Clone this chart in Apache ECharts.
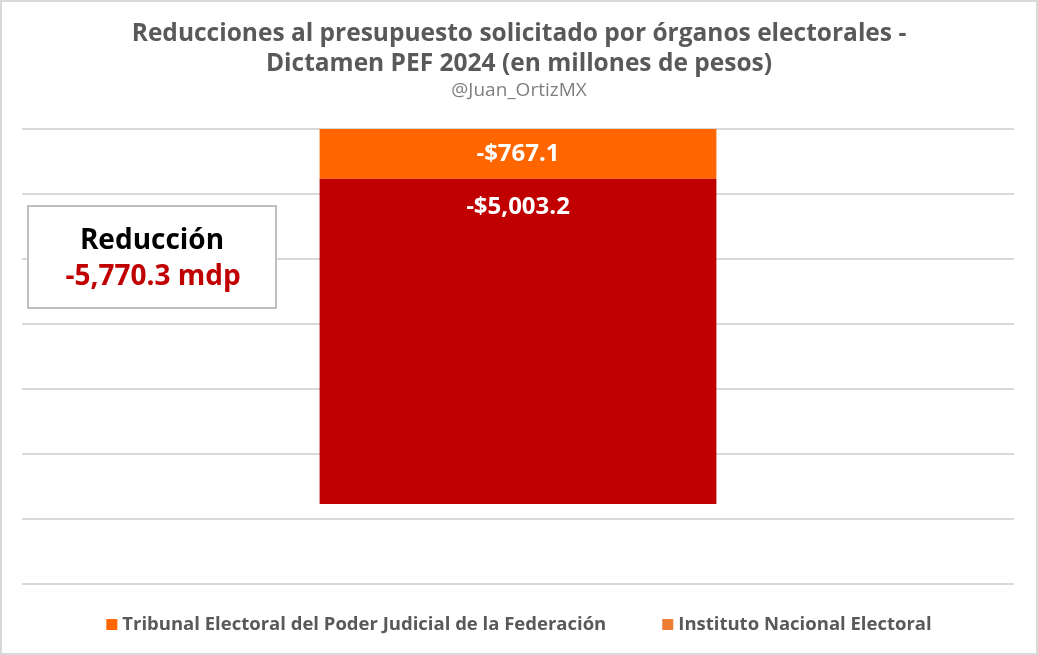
<!DOCTYPE html>
<html>
<head>
<meta charset="utf-8">
<script src="https://cdn.jsdelivr.net/npm/echarts@6/dist/echarts.min.js"></script>
<style>
  html, body { margin: 0; padding: 0; background: #fff; }
  #chart { width: 1038px; height: 655px; box-sizing: border-box; border: 2px solid #d9d9d9; }
</style>
</head>
<body>
<div id="chart"></div>
<script>
// datos (millones de pesos)
var categories = ['Dictamen PEF 2024'];
var seriesNames = ['Tribunal Electoral del Poder Judicial de la Federación', 'Instituto Nacional Electoral'];
var tribunalValues = [-767.1];
var ineValues = [-5003.2];
var barColors = ['#FF6600', '#C00000'];
var legendColors = ['#FF6600', '#ED7D31'];

var total = tribunalValues[0] + ineValues[0];

function money(v) {
  return '-$' + Math.abs(v).toLocaleString('en-US', { minimumFractionDigits: 1, maximumFractionDigits: 1 });
}

var chartDom = document.getElementById('chart');
var myChart = echarts.init(chartDom, null, { renderer: 'canvas' });
var font = 'Open Sans';

var option = {
  animation: false,
  textStyle: { fontFamily: font },
  title: {
    text: 'Reducciones al presupuesto solicitado por órganos electorales -\nDictamen PEF 2024 (en millones de pesos)',
    subtext: '@Juan_OrtizMX',
    left: 'center',
    top: 12,
    itemGap: 2,
    textStyle: { fontFamily: font, fontSize: 24.5, fontWeight: 'bold', color: '#595959', lineHeight: 30 },
    subtextStyle: { fontFamily: font, fontSize: 19, color: '#7f7f7f' }
  },
  legend: {
    bottom: 14,
    left: 'center',
    itemWidth: 11,
    itemHeight: 11,
    itemGap: 56,
    icon: 'rect',
    textStyle: { fontFamily: font, fontSize: 18.5, fontWeight: 'bold', color: '#595959' },
    data: [
      { name: seriesNames[0], itemStyle: { color: legendColors[0] } },
      { name: seriesNames[1], itemStyle: { color: legendColors[1] } }
    ]
  },
  grid: { left: 20, right: 22, top: 127, bottom: 69 },
  xAxis: {
    type: 'category',
    data: categories,
    axisLine: { show: false },
    axisTick: { show: false },
    axisLabel: { show: false }
  },
  yAxis: {
    type: 'value',
    min: -7000,
    max: 0,
    interval: 1000,
    axisLabel: { show: false },
    axisLine: { show: false },
    axisTick: { show: false },
    splitLine: { lineStyle: { color: '#d9d9d9', width: 2 } }
  },
  series: [
    {
      name: seriesNames[0],
      type: 'bar',
      stack: 'total',
      barWidth: '40%',
      data: tribunalValues,
      itemStyle: { color: barColors[0] },
      label: {
        show: true,
        position: 'inside',
        formatter: function (p) { return money(p.value); },
        fontFamily: font, fontSize: 24, fontWeight: 'bold', color: '#fff'
      }
    },
    {
      name: seriesNames[1],
      type: 'bar',
      stack: 'total',
      barWidth: '40%',
      data: ineValues,
      itemStyle: { color: barColors[1] },
      label: {
        show: true,
        position: 'insideTop',
        distance: 16,
        formatter: function (p) { return money(p.value); },
        fontFamily: font, fontSize: 24, fontWeight: 'bold', color: '#fff'
      }
    }
  ],
  graphic: [
    {
      type: 'rect',
      left: 25,
      top: 203,
      shape: { width: 248, height: 102 },
      style: { fill: '#fff', stroke: '#bfbfbf', lineWidth: 2 },
      z: 100
    },
    {
      type: 'text',
      style: {
        text: 'Reducción',
        x: 150, y: 239,
        align: 'center', verticalAlign: 'middle',
        font: 'bold 28px "' + font + '"',
        fill: '#000'
      },
      z: 101
    },
    {
      type: 'text',
      style: {
        text: '-' + Math.abs(total).toLocaleString('en-US', { minimumFractionDigits: 1, maximumFractionDigits: 1 }) + ' mdp',
        x: 151, y: 275,
        align: 'center', verticalAlign: 'middle',
        font: 'bold 28px "' + font + '"',
        fill: '#C00000'
      },
      z: 101
    }
  ]
};

myChart.setOption(option);
</script>
</body>
</html>
